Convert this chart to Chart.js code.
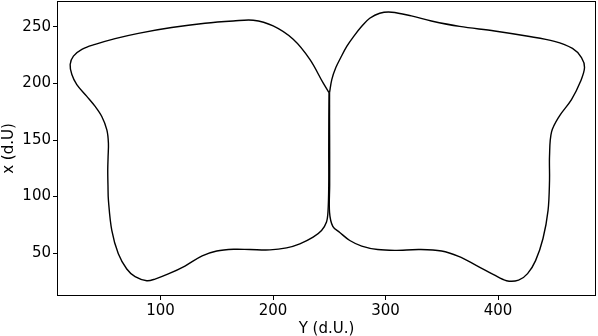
<!DOCTYPE html>
<html>
<head>
<meta charset="utf-8">
<script src="https://cdn.jsdelivr.net/npm/chart.js@4.4.1/dist/chart.umd.min.js"></script>
<style>
  html, body { margin: 0; padding: 0; background: #fff; }
  #wrap { width: 598px; height: 336px; }
</style>
</head>
<body>
<div id="wrap"><canvas id="c" width="598" height="336"></canvas></div>
<script>
// horizontal axis = "Y (d.U.)", vertical axis = "x (d.U)"
// left lobe: cusp -> top arc -> left side -> bottom -> centre stem -> cusp
const leftY = [249.8, 244.5, 232.7, 217.9, 200.1, 182.4, 164.6, 139.5, 109.9, 80.3, 59.6, 41.9, 30.1, 22.6, 19.7, 21.2, 25.6, 34.5, 41.9, 47.8, 52.3, 53.7, 53.4, 53.1, 53.3, 53.7, 56.7, 62.5, 70.0, 77.4, 87.8, 95.1, 106.9, 121.7, 137.0, 150.0, 165.0, 179.4, 197.2, 212.0, 223.8, 235.6, 243.1, 247.5, 248.9, 249.5, 249.5, 249.6, 249.8];
const leftX = [191.9, 200.5, 221.3, 239.1, 250.9, 256.0, 255.3, 253.3, 249.5, 244.4, 239.7, 234.6, 230.2, 224.2, 216.8, 207.9, 199.0, 188.6, 179.7, 170.8, 159.0, 147.2, 135.0, 123.4, 110.0, 96.7, 70.0, 49.3, 35.9, 29.1, 25.5, 27.0, 31.5, 38.5, 47.5, 51.8, 53.3, 53.1, 52.8, 54.6, 58.2, 64.1, 70.0, 77.4, 87.8, 110.0, 140.0, 170.0, 191.9];

// right lobe: cusp -> top arc -> right side -> bottom -> centre stem -> cusp
const rightY = [250.2, 252.2, 255.8, 260.2, 265.5, 271.7, 278.8, 285.9, 294.8, 305.5, 322.9, 340.7, 365.8, 396.9, 425.3, 450.1, 466.1, 474.1, 476.8, 473.2, 465.2, 454.6, 447.5, 445.7, 445.7, 444.4, 439.9, 433.3, 426.2, 418.2, 407.5, 396.0, 380.9, 364.9, 349.8, 330.3, 308.1, 293.0, 278.8, 268.2, 259.3, 253.1, 250.2, 250.3, 250.3, 250.2, 250.2];
const rightX = [191.9, 203.5, 214.1, 223.0, 232.8, 241.7, 250.6, 257.7, 262.2, 263.1, 259.8, 255.3, 250.5, 246.5, 242.0, 237.3, 231.0, 223.0, 214.1, 201.7, 185.7, 171.4, 157.2, 135.8, 114.5, 87.8, 62.9, 43.3, 31.8, 26.0, 25.5, 30.9, 38.9, 47.0, 51.8, 53.1, 52.4, 53.1, 56.2, 61.1, 68.2, 73.6, 86.0, 110.0, 140.0, 170.0, 191.9];

const xTicks = [100, 200, 300, 400];
const yTicks = [50, 100, 150, 200, 250];

const FONT = 'DejaVu Sans, sans-serif';

function pts(hs, vs) {
  return hs.map((h, i) => ({ x: h, y: vs[i] }));
}

// matplotlib-like box round the plot area
const frame = {
  id: 'frame',
  afterDraw(chart) {
    const { ctx, chartArea: a } = chart;
    ctx.save();
    ctx.strokeStyle = '#000';
    ctx.lineWidth = 1;
    ctx.strokeRect(Math.round(a.left) + 0.5, Math.round(a.top) + 0.5,
      Math.round(a.right - a.left) - 1, Math.round(a.bottom - a.top) - 1);
    ctx.restore();
  }
};

const lineDs = (data) => ({
  data,
  showLine: true,
  borderColor: '#000',
  borderWidth: 1.4,
  pointRadius: 0,
  tension: 0.35,
  fill: false
});

new Chart(document.getElementById('c'), {
  type: 'scatter',
  data: { datasets: [lineDs(pts(leftY, leftX)), lineDs(pts(rightY, rightX))] },
  options: {
    responsive: false,
    devicePixelRatio: 1,
    animation: false,
    layout: { padding: { top: 1, right: 2, left: 0, bottom: 0 } },
    plugins: { legend: { display: false }, tooltip: { enabled: false } },
    scales: {
      x: {
        type: 'linear', min: 8, max: 487,
        afterBuildTicks: (s) => { s.ticks = xTicks.map(v => ({ value: v })); },
        afterFit: (s) => { s.height = 40; s.paddingLeft = 0; s.paddingRight = 0; },
        ticks: { color: '#000', font: { family: FONT, size: 15 }, padding: 2, maxRotation: 0 },
        grid: { drawOnChartArea: false, drawTicks: true, tickLength: 4, color: '#000' },
        border: { display: false },
        title: { display: true, text: 'Y (d.U.)', color: '#000', font: { family: FONT, size: 15 }, padding: { top: 0, bottom: -2 } }
      },
      y: {
        type: 'linear', min: 12, max: 273,
        afterBuildTicks: (s) => { s.ticks = yTicks.map(v => ({ value: v })); },
        afterFit: (s) => { s.width = 57; s.paddingTop = 0; s.paddingBottom = 0; },
        ticks: { color: '#000', font: { family: FONT, size: 15 }, padding: 2 },
        grid: { drawOnChartArea: false, drawTicks: true, tickLength: 4, color: '#000' },
        border: { display: false },
        title: { display: true, text: 'x (d.U)', color: '#000', font: { family: FONT, size: 15 }, padding: { top: 0, bottom: 0 } }
      }
    }
  },
  plugins: [frame]
});
</script>
</body>
</html>
